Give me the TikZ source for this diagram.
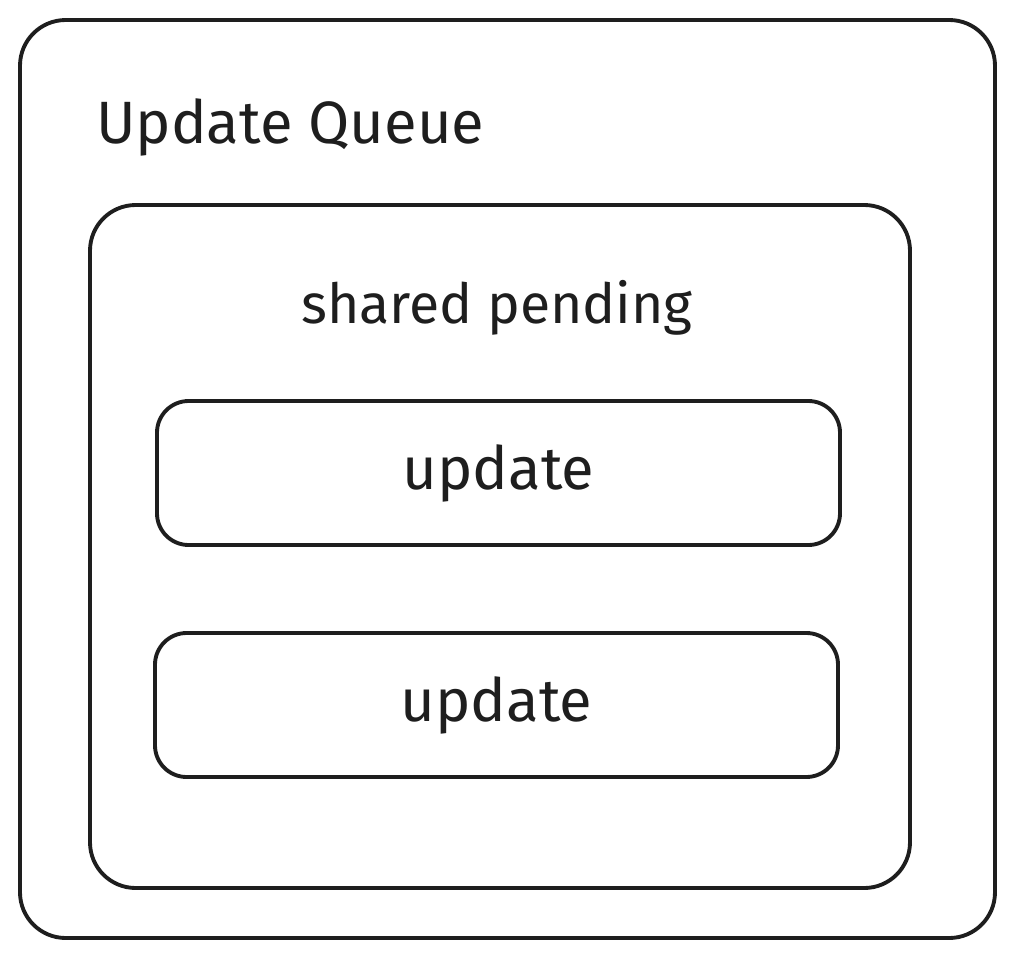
\documentclass[tikz,border=0pt]{standalone}
\usepackage{fontspec}
\setmainfont{Fira Sans}
\definecolor{ink}{HTML}{1E1E1E}
\tikzset{
  box/.style={draw=ink, line width=2.2pt, rounded corners=26pt, inner sep=0pt},
  txt/.style={text=ink, font=\fontsize{34}{40}\selectfont}
}
\begin{document}
\begin{tikzpicture}
\useasboundingbox (0,0) rectangle (20.28,-19.16);

\node[box, minimum width=19.5cm, minimum height=18.36cm] (queue) at (10.15,-9.58) {};
\node[txt, anchor=west] (title) at (1.80,-2.54) {Update Queue};

\node[box, minimum width=16.4cm, minimum height=13.66cm] (pending) at (10.0,-10.93) {};
\node[txt, font=\fontsize{31.5}{38}\selectfont] (pendlabel) at (9.94,-6.16) {shared pending};

\node[box, rounded corners=18pt, minimum width=13.66cm, minimum height=2.88cm] (upA) at (9.97,-9.46) {};
\node[txt] (upAlabel) at (upA) {update};

\node[box, rounded corners=18pt, minimum width=13.66cm, minimum height=2.88cm] (upB) at (9.93,-14.1) {};
\node[txt] (upBlabel) at (upB) {update};
\end{tikzpicture}
\end{document}
